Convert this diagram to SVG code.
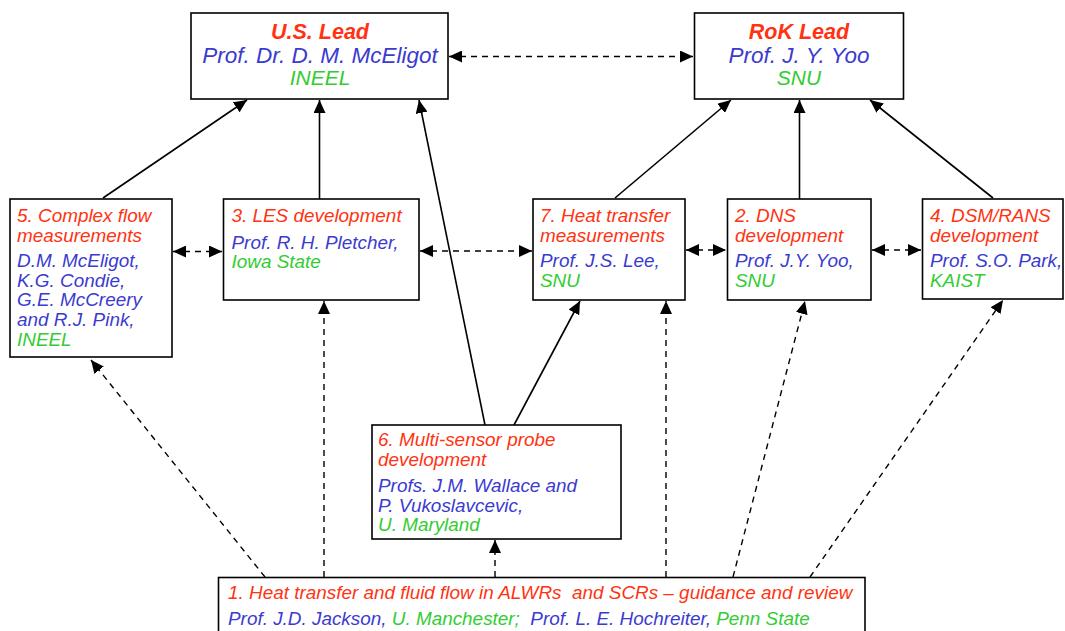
<svg xmlns="http://www.w3.org/2000/svg" width="1065" height="631" viewBox="0 0 1065 631">
<style>
.box{fill:#fff;stroke:#000;stroke-width:1.6}
text{font-family:"Liberation Sans",Arial,sans-serif;font-style:italic;font-size:18.9px}
.lead{font-size:22.5px;text-anchor:middle}
.lt{font-weight:bold;font-size:21.5px}
.ls{font-size:21px}
.r{fill:#FF3311}
.b{fill:#3B3BCF}
.g{fill:#33CC33}
.s{fill:none;stroke:#000;stroke-width:1.6;marker-end:url(#ah)}
.d{fill:none;stroke:#000;stroke-width:1.4;stroke-dasharray:6 5;marker-end:url(#ah)}
.dd{fill:none;stroke:#000;stroke-width:1.4;stroke-dasharray:6 5;marker-end:url(#ah);marker-start:url(#ahs)}
</style>
<defs>
<marker id="ah" markerUnits="userSpaceOnUse" markerWidth="14" markerHeight="12" refX="13" refY="6" orient="auto"><path d="M0,0 L13,6 L0,12 Z" fill="#000"/></marker>
<marker id="ahs" markerUnits="userSpaceOnUse" markerWidth="14" markerHeight="12" refX="13" refY="6" orient="auto-start-reverse"><path d="M0,0 L13,6 L0,12 Z" fill="#000"/></marker>
</defs>
<g id="connectors">
<line class="dd" x1="449" y1="56.5" x2="693" y2="56.5"/>
<line class="s" x1="103" y1="198" x2="247" y2="100"/>
<line class="s" x1="319.5" y1="199" x2="319.5" y2="100"/>
<line class="s" x1="485" y1="425" x2="419" y2="100"/>
<line class="s" x1="514" y1="425" x2="580" y2="301"/>
<line class="s" x1="615" y1="198" x2="731" y2="100"/>
<line class="s" x1="799.5" y1="199" x2="799.5" y2="100"/>
<line class="s" x1="993" y1="198" x2="870" y2="100"/>
<line class="dd" x1="173" y1="251.5" x2="222" y2="251.5"/>
<line class="dd" x1="420" y1="251" x2="532" y2="251"/>
<line class="dd" x1="686" y1="250" x2="726" y2="250"/>
<line class="dd" x1="872" y1="250" x2="921" y2="250"/>
<line class="d" x1="265" y1="577" x2="91" y2="360"/>
<line class="d" x1="324" y1="577" x2="324" y2="301"/>
<line class="d" x1="495" y1="577" x2="495" y2="540"/>
<line class="d" x1="666" y1="577" x2="666" y2="301"/>
<line class="d" x1="733" y1="577" x2="805" y2="301"/>
<line class="d" x1="810" y1="577" x2="1003" y2="300"/>
</g>
<g id="us-lead">
<rect class="box" x="191" y="13" width="257" height="86"/>
<text class="lead lt r" x="320" y="39">U.S. Lead</text>
<text class="lead b" x="320" y="63">Prof. Dr. D. M. McEligot</text>
<text class="lead ls g" x="320" y="85">INEEL</text>
</g>
<g id="rok-lead">
<rect class="box" x="694.5" y="13" width="209" height="86"/>
<text class="lead lt r" x="799" y="39">RoK Lead</text>
<text class="lead b" x="799" y="63">Prof. J. Y. Yoo</text>
<text class="lead ls g" x="799" y="85">SNU</text>
</g>
<g id="n5">
<rect class="box" x="10" y="199" width="162" height="158"/>
<text x="17" y="222" class="r">5. Complex flow</text>
<text x="17" y="241.5" class="r">measurements</text>
<text x="17" y="267" class="b">D.M. McEligot,</text>
<text x="17" y="286.7" class="b">K.G. Condie,</text>
<text x="17" y="306.4" class="b">G.E. McCreery</text>
<text x="17" y="326" class="b">and R.J. Pink,</text>
<text x="17" y="345.7" class="g">INEEL</text>
</g>
<g id="n3">
<rect class="box" x="223.5" y="199" width="195.5" height="101"/>
<text x="231.5" y="222" class="r">3. LES development</text>
<text x="231.5" y="249" class="b">Prof. R. H. Pletcher,</text>
<text x="231.5" y="268" class="g">Iowa State</text>
</g>
<g id="n7">
<rect class="box" x="533" y="199" width="152" height="101"/>
<text x="540" y="222" class="r">7. Heat transfer</text>
<text x="540" y="241.5" class="r">measurements</text>
<text x="540" y="267" class="b">Prof. J.S. Lee,</text>
<text x="540" y="286.7" class="g">SNU</text>
</g>
<g id="n2">
<rect class="box" x="727.5" y="199" width="143.5" height="101"/>
<text x="735" y="222" class="r">2. DNS</text>
<text x="735" y="241.5" class="r">development</text>
<text x="735" y="267" class="b">Prof. J.Y. Yoo,</text>
<text x="735" y="286.7" class="g">SNU</text>
</g>
<g id="n4">
<rect class="box" x="922.5" y="199" width="140.5" height="100"/>
<text x="930" y="222" class="r">4. DSM/RANS</text>
<text x="930" y="241.5" class="r">development</text>
<text x="930" y="267" class="b">Prof. S.O. Park,</text>
<text x="930" y="286.7" class="g">KAIST</text>
</g>
<g id="n6">
<rect class="box" x="372" y="425" width="249" height="114"/>
<text x="378" y="446" class="r">6. Multi-sensor probe</text>
<text x="378" y="465.5" class="r">development</text>
<text x="378" y="492" class="b">Profs. J.M. Wallace and</text>
<text x="378" y="511.7" class="b">P. Vukoslavcevic,</text>
<text x="378" y="531.4" class="g">U. Maryland</text>
</g>
<g id="n1">
<rect class="box" x="218.5" y="577.5" width="646.5" height="60"/>
<text x="228" y="598.5" class="r" xml:space="preserve">1. Heat transfer and fluid flow in ALWRs  and SCRs – guidance and review</text>
<text x="228" y="625" xml:space="preserve"><tspan class="b">Prof. J.D. Jackson, </tspan><tspan class="g">U. Manchester;</tspan><tspan class="b">  Prof. L. E. Hochreiter, </tspan><tspan class="g">Penn State</tspan></text>
</g>
</svg>
